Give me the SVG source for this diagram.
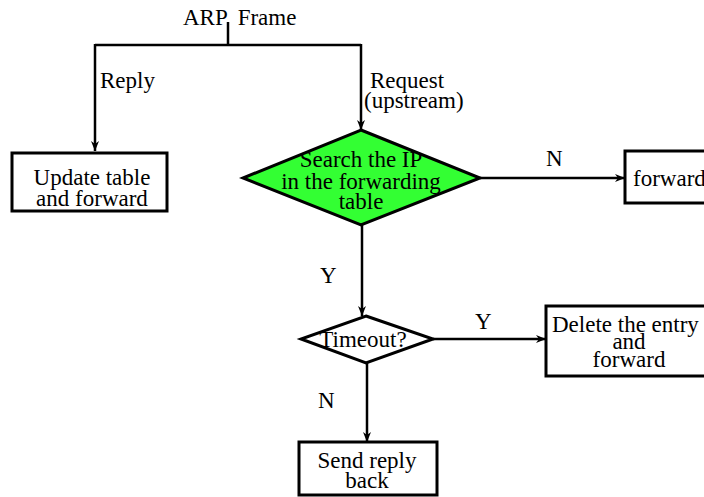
<svg xmlns="http://www.w3.org/2000/svg" width="704" height="497" viewBox="0 0 704 497">
  <style>
    .ln { fill: none; stroke: #000; stroke-width: 2.5; }
    .box { fill: #fff; stroke: #000; stroke-width: 3; }
    .dia { stroke: #000; stroke-width: 3; }
    text { font-family: "Liberation Serif", "Times New Roman", serif; font-size: 23px; fill: #000; }
    .c { text-anchor: middle; }
  </style>
  <defs>
    <marker id="arr" viewBox="0 0 10 10" refX="10" refY="5" markerWidth="10" markerHeight="10" markerUnits="userSpaceOnUse" orient="auto">
      <path d="M0,1 L10,5 L0,9 L3,5 Z" fill="#000"/>
    </marker>
  </defs>

  <g id="connectors">
    <polyline class="ln" points="228,22 228,45"/>
    <polyline class="ln" points="95,45 361,45"/>
    <polyline class="ln" points="95,44 95,151" marker-end="url(#arr)"/>
    <polyline class="ln" points="361,44 361,130" marker-end="url(#arr)"/>
    <polyline class="ln" points="480,178 625,178" marker-end="url(#arr)"/>
    <polyline class="ln" points="362,225 362,316" marker-end="url(#arr)"/>
    <polyline class="ln" points="433,339 546,339" marker-end="url(#arr)"/>
    <polyline class="ln" points="367,363 367,442" marker-end="url(#arr)"/>
    <text x="183" y="25">ARP<tspan dx="5"> Frame</tspan></text>
    <text x="100" y="88">Reply</text>
    <text x="370" y="88">Request</text>
    <text x="364" y="108">(upstream)</text>
    <text x="546" y="166">N</text>
    <text x="320" y="283">Y</text>
    <text x="475" y="329">Y</text>
    <text x="318" y="408">N</text>
  </g>

  <g id="update">
    <rect class="box" x="12" y="153" width="155" height="58"/>
    <text class="c" x="92" y="185">Update table</text>
    <text class="c" x="92" y="206">and forward</text>
  </g>

  <g id="search">
    <polygon class="dia" fill="#33ff33" points="361,130 480,178 361,225 243,178"/>
    <text class="c" x="361" y="167">Search the IP</text>
    <text class="c" x="361" y="189">in the forwarding</text>
    <text class="c" x="361" y="209">table</text>
  </g>

  <g id="forward">
    <rect class="box" x="625" y="151" width="90" height="52"/>
    <text x="633" y="186">forward</text>
  </g>

  <g id="timeout">
    <polygon class="dia" fill="#fff" points="366,316 433,339 366,363 301,339"/>
    <text class="c" x="363" y="347">Timeout?</text>
  </g>

  <g id="delete">
    <rect class="box" x="546" y="306" width="170" height="70"/>
    <text x="552" y="332">Delete the entry</text>
    <text class="c" x="629" y="349">and</text>
    <text class="c" x="629" y="367">forward</text>
  </g>

  <g id="sendreply">
    <rect class="box" x="299" y="442" width="138" height="53"/>
    <text class="c" x="367" y="468">Send reply</text>
    <text class="c" x="367" y="488">back</text>
  </g>
</svg>
